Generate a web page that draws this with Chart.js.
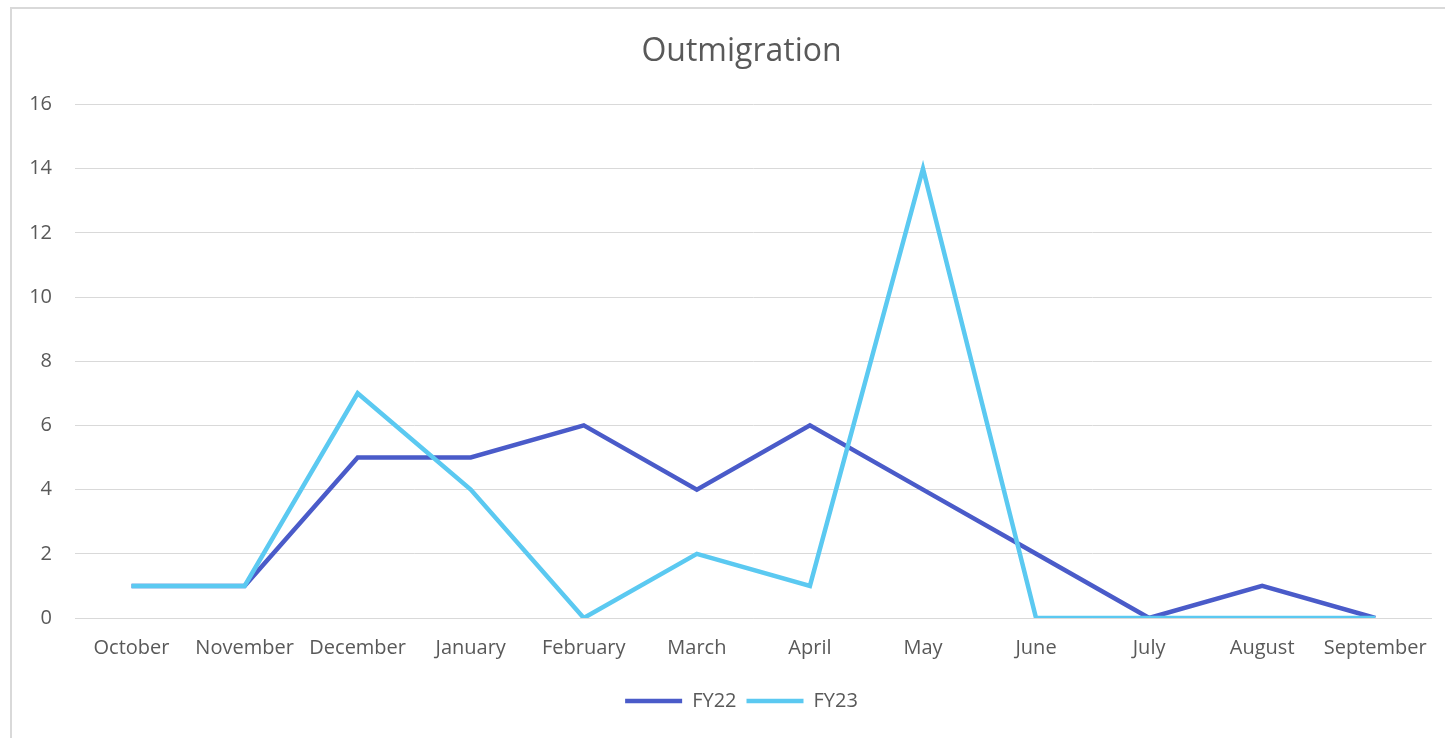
<!DOCTYPE html>
<html>
<head>
<meta charset="utf-8">
<script src="https://cdn.jsdelivr.net/npm/chart.js@4/dist/chart.umd.min.js"></script>
<style>
  html, body { margin: 0; padding: 0; background: #ffffff; }
  #moldura {
    position: absolute; left: 10px; top: 7px; width: 1440px; height: 740px;
    border: 2px solid #d9d9d9; box-sizing: border-box;
  }
  #caixa { position: absolute; left: 0; top: 0; width: 1445px; height: 738px; }
</style>
</head>
<body>
<div id="moldura"></div>
<div id="caixa"><canvas id="graficoMigracao"></canvas></div>
<script>
// dados
const meses = ['October', 'November', 'December', 'January', 'February', 'March',
               'April', 'May', 'June', 'July', 'August', 'September'];
const valoresFY22 = [1, 1, 5, 5, 6, 4, 6, 4, 2, 0, 1, 0];
const valoresFY23 = [1, 1, 7, 4, 0, 2, 1, 14, 0, 0, 0, 0];
const marcasEixoY = [0, 2, 4, 6, 8, 10, 12, 14, 16];

const corTexto = '#595959';
const fonteBase = "'Open Sans', 'Noto Sans', sans-serif";

const ctx = document.getElementById('graficoMigracao').getContext('2d');

const grafico = new Chart(ctx, {
    type: 'line',
    data: {
        labels: meses,
        datasets: [
            {
                label: 'FY22',
                data: valoresFY22,
                borderColor: '#4a5bc9',
                backgroundColor: '#4a5bc9',
                borderWidth: 4.5,
                pointRadius: 0,
                tension: 0,
                order: 1
            },
            {
                label: 'FY23',
                data: valoresFY23,
                borderColor: '#5bc9f1',
                backgroundColor: '#5bc9f1',
                borderWidth: 4.5,
                pointRadius: 0,
                tension: 0,
                order: 0 // FY23 por cima
            }
        ]
    },
    options: {
        responsive: true,
        maintainAspectRatio: false,
        animation: false,
        // padding esquerdo maior para centrar título e legenda em ~740px
        layout: { padding: { top: 7, left: 45, right: 7, bottom: 17 } },
        plugins: {
            title: {
                display: true,
                text: 'Outmigration',
                color: corTexto,
                font: { family: fonteBase, size: 32, weight: 'normal' },
                padding: { top: 26, bottom: 33 }
            },
            legend: {
                position: 'bottom',
                labels: {
                    usePointStyle: true,
                    pointStyle: 'line',
                    pointStyleWidth: 57,
                    color: corTexto,
                    font: { family: fonteBase, size: 20 },
                    padding: 10,
                    sort: (a, b) => a.datasetIndex - b.datasetIndex
                }
            },
            tooltip: { enabled: false }
        },
        scales: {
            x: {
                offset: true,
                grid: { display: false, drawTicks: false },
                border: { display: true, color: '#d9d9d9', width: 1 },
                ticks: {
                    color: corTexto,
                    font: { family: fonteBase, size: 20 },
                    autoSkip: false,
                    maxRotation: 0,
                    padding: 18
                },
                afterFit: (escala) => { escala.height = 63; }
            },
            y: {
                min: 0,
                max: 16,
                afterBuildTicks: (escala) => {
                    escala.ticks = marcasEixoY.map(v => ({ value: v }));
                },
                grid: { color: '#d9d9d9', lineWidth: 1, drawTicks: false },
                border: { display: false },
                ticks: {
                    color: corTexto,
                    font: { family: fonteBase, size: 20 },
                    padding: 23
                },
                afterFit: (escala) => {
                    escala.width = 30;
                    // os rótulos passam da borda esquerda da escala, então sem recorte
                    escala._computeLabelArea = () => undefined;
                }
            }
        }
    }
});
</script>
</body>
</html>
